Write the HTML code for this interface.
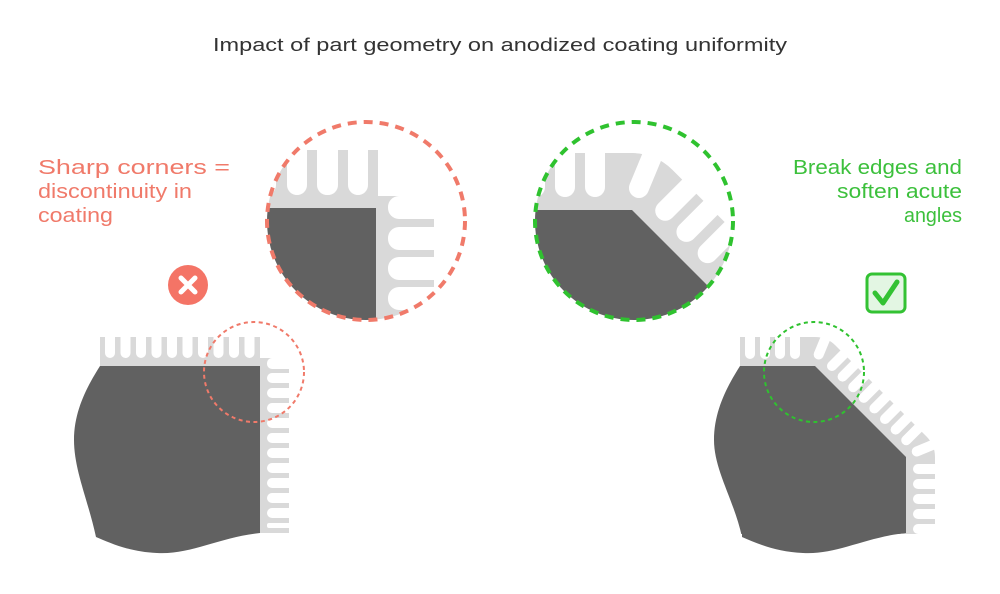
<!DOCTYPE html>
<html><head><meta charset="utf-8"><style>
html,body{margin:0;padding:0;background:#fff;}
svg{display:block;}
text{font-family:"Liberation Sans",sans-serif;}
</style></head><body>
<svg width="1000" height="594" viewBox="0 0 1000 594" xmlns="http://www.w3.org/2000/svg">
<defs>
<clipPath id="cl"><circle cx="366" cy="221" r="99"/></clipPath>
<clipPath id="cr"><circle cx="634" cy="221" r="99"/></clipPath>
</defs>
<text x="213" y="51" font-size="18" fill="#333" textLength="574" lengthAdjust="spacingAndGlyphs">Impact of part geometry on anodized coating uniformity</text>
<g font-size="20" fill="#f07a6a">
<text x="38" y="174" textLength="192" lengthAdjust="spacingAndGlyphs">Sharp corners =</text>
<text x="38" y="198" textLength="154" lengthAdjust="spacingAndGlyphs">discontinuity in</text>
<text x="38" y="222" textLength="75" lengthAdjust="spacingAndGlyphs">coating</text>
</g>
<g font-size="20" fill="#3cc03c">
<text x="793" y="174" textLength="169" lengthAdjust="spacingAndGlyphs">Break edges and</text>
<text x="837" y="198" textLength="125" lengthAdjust="spacingAndGlyphs">soften acute</text>
<text x="904" y="222" textLength="58" lengthAdjust="spacingAndGlyphs">angles</text>
</g>

<!-- Left big circle -->
<g clip-path="url(#cl)">
<rect x="255" y="150" width="123" height="58" fill="#d9d9d9"/>
<rect x="376" y="196" width="58" height="140" fill="#d9d9d9"/>
<g fill="#fff">
<rect x="256" y="100" width="20" height="95" rx="10"/>
<rect x="287" y="100" width="20" height="95" rx="10"/>
<rect x="317" y="100" width="21" height="95" rx="10"/>
<rect x="348" y="100" width="20" height="95" rx="10"/>
<rect x="378" y="100" width="80" height="96" />
<rect x="388" y="196" width="80" height="23" rx="11"/>
<rect x="388" y="227" width="80" height="23" rx="11"/>
<rect x="388" y="257" width="80" height="23" rx="11"/>
<rect x="388" y="287" width="80" height="23" rx="11"/>
<rect x="388" y="317" width="80" height="23" rx="11"/>
</g>
<rect x="250" y="208" width="126" height="130" fill="#616161"/>
</g>
<circle cx="366" cy="221" r="99" fill="none" stroke="#f07a6a" stroke-width="4" stroke-dasharray="9 7"/>

<!-- Right big circle -->
<g clip-path="url(#cr)">
<path d="M500,210 L632,210 L780,358" fill="none" stroke="#d9d9d9" stroke-width="114" stroke-linejoin="round"/>
<g fill="#fff">
<rect x="525" y="100" width="20" height="97" rx="10"/>
<rect x="555" y="100" width="20" height="97" rx="10"/>
<rect x="585" y="100" width="20" height="97" rx="10"/>
<g transform="translate(632,210) rotate(22.5)"><rect x="-12" y="-120" width="20" height="107" rx="10"/></g>
<g transform="translate(632,210) rotate(45)">
<rect x="14" y="-120" width="20" height="107" rx="10"/>
<rect x="44" y="-120" width="20" height="107" rx="10"/>
<rect x="74" y="-120" width="20" height="107" rx="10"/>
<rect x="104" y="-120" width="20" height="107" rx="10"/>
<rect x="134" y="-120" width="20" height="107" rx="10"/>
</g>
</g>
<path d="M520,210 L632,210 L760,338 L520,338 Z" fill="#616161"/>
</g>
<circle cx="634" cy="221" r="99" fill="none" stroke="#2fc22f" stroke-width="4" stroke-dasharray="9 7"/>

<!-- Left small -->
<rect x="100" y="337" width="160" height="29" fill="#d9d9d9"/>
<rect x="260" y="358" width="29" height="175" fill="#d9d9d9"/>
<g fill="#fff">
<rect x="105" y="320" width="10" height="38" rx="5"/>
<rect x="120.5" y="320" width="10" height="38" rx="5"/>
<rect x="136" y="320" width="10" height="38" rx="5"/>
<rect x="151.5" y="320" width="10" height="38" rx="5"/>
<rect x="167" y="320" width="10" height="38" rx="5"/>
<rect x="182.5" y="320" width="10" height="38" rx="5"/>
<rect x="198" y="320" width="10" height="38" rx="5"/>
<rect x="213.5" y="320" width="10" height="38" rx="5"/>
<rect x="229" y="320" width="10" height="38" rx="5"/>
<rect x="244.5" y="320" width="10" height="38" rx="5"/>
<rect x="260" y="320" width="40" height="38"/>
<rect x="267" y="358" width="40" height="11" rx="5"/>
<rect x="267" y="373" width="40" height="10" rx="5"/>
<rect x="267" y="388" width="40" height="10" rx="5"/>
<rect x="267" y="403" width="40" height="10" rx="5"/>
<rect x="267" y="418" width="40" height="10" rx="5"/>
<rect x="267" y="433" width="40" height="10" rx="5"/>
<rect x="267" y="448" width="40" height="10" rx="5"/>
<rect x="267" y="463" width="40" height="10" rx="5"/>
<rect x="267" y="478" width="40" height="10" rx="5"/>
<rect x="267" y="493" width="40" height="10" rx="5"/>
<rect x="267" y="508" width="40" height="10" rx="5"/>
<rect x="267" y="523" width="40" height="5" rx="2"/>
</g>
<path d="M100,366 L260,366 L260,533 C220,537 190,555 157,553 C130,552 110,543 96,537 C88,500 74,470 74,440 C74,410 88,385 100,366 Z" fill="#616161"/>
<circle cx="254" cy="372" r="50" fill="none" stroke="#f07a6a" stroke-width="2" stroke-dasharray="4 3.5"/>
<circle cx="188" cy="285" r="20" fill="#f47466"/>
<path d="M181,278 L195,292 M195,278 L181,292" stroke="#fff" stroke-width="5" stroke-linecap="round"/>

<!-- Right small -->
<path d="M740,366 L815,366 L906,457 L906,534" fill="none" stroke="#d9d9d9" stroke-width="58" stroke-linejoin="round"/>
<rect x="700" y="330" width="40" height="40" fill="#fff"/>
<g fill="#fff">
<rect x="745" y="320" width="10" height="39" rx="5"/>
<rect x="760" y="320" width="10" height="39" rx="5"/>
<rect x="775" y="320" width="10" height="39" rx="5"/>
<rect x="790" y="320" width="10" height="39" rx="5"/>
<g transform="translate(815,366) rotate(22.5)"><rect x="-6" y="-50" width="10" height="43" rx="5"/></g>
<g transform="translate(815,366) rotate(45)">
<rect x="7" y="-50" width="10" height="43" rx="5"/>
<rect x="22" y="-50" width="10" height="43" rx="5"/>
<rect x="37" y="-50" width="10" height="43" rx="5"/>
<rect x="52" y="-50" width="10" height="43" rx="5"/>
<rect x="67" y="-50" width="10" height="43" rx="5"/>
<rect x="82" y="-50" width="10" height="43" rx="5"/>
<rect x="97" y="-50" width="10" height="43" rx="5"/>
<rect x="112" y="-50" width="10" height="43" rx="5"/>
</g>
<g transform="translate(906,457) rotate(67.5)"><rect x="-6" y="-50" width="10" height="43" rx="5"/></g>
<g transform="translate(906,457) rotate(90)">
<rect x="7" y="-50" width="10" height="43" rx="5"/>
<rect x="22" y="-50" width="10" height="43" rx="5"/>
<rect x="37" y="-50" width="10" height="43" rx="5"/>
<rect x="52" y="-50" width="10" height="43" rx="5"/>
<rect x="67" y="-50" width="10" height="43" rx="5"/>
</g>
</g>
<path d="M740,366 L815,366 L906,457 L906,533 C866,537 836,555 803,553 C776,552 756,543 742,537 C734,500 714,470 714,440 C714,410 728,385 740,366 Z" fill="#616161"/>
<rect x="700" y="534" width="260" height="30" fill="#fff"/>
<path d="M906,533 C866,537 836,555 803,553 C776,552 756,543 742,537 L742,530 L906,530 Z" fill="#616161"/>
<circle cx="814" cy="372" r="50" fill="none" stroke="#2fc22f" stroke-width="2" stroke-dasharray="4 3.5"/>
<rect x="867" y="274" width="38" height="38" rx="5" fill="#e3f6e3" stroke="#33c233" stroke-width="3"/>
<path d="M875,293 L883,303 L897,282" fill="none" stroke="#33c233" stroke-width="5" stroke-linecap="round" stroke-linejoin="round"/>
</svg>
</body></html>
